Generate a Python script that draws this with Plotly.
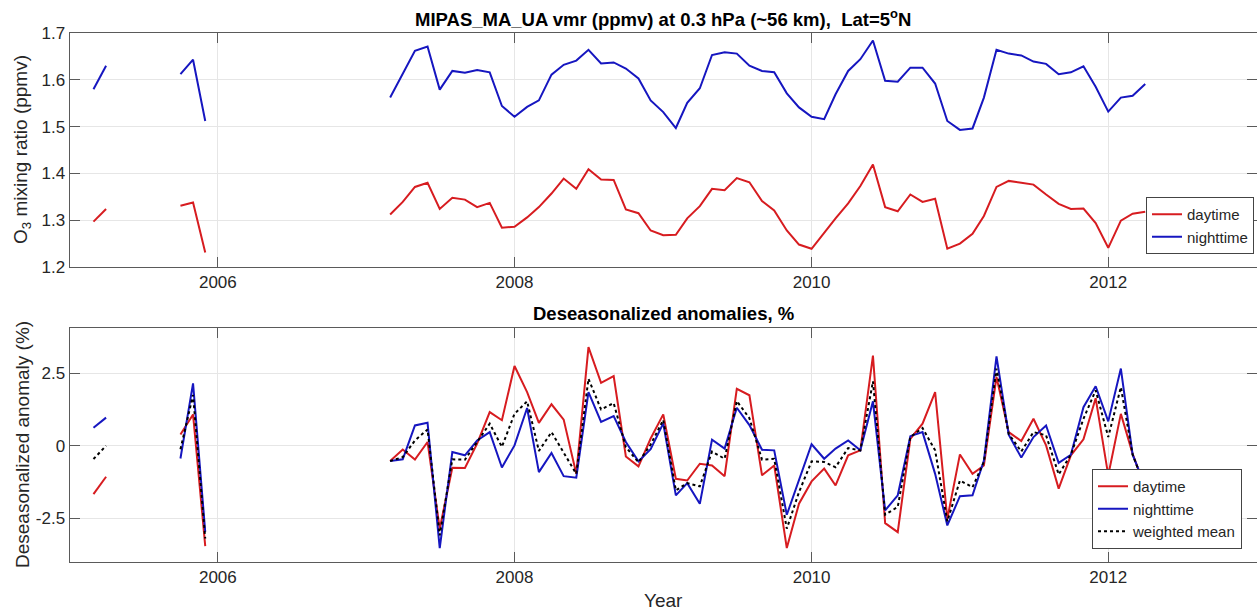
import pandas as pd
import plotly.graph_objects as go

# Monthly time axis, March 2005 to April 2012 (None marks months without data)
months = pd.date_range("2005-03-01", "2012-04-01", freq="MS")
N = None
GAP5 = [N] * 5
GAP12 = [N] * 12

# O3 vmr (ppmv) at 0.3 hPa, 5N
o3_day = (
    [1.297, 1.324] + GAP5 + [1.331, 1.338, 1.231]                          # 2005
    + GAP12                                                                # 2006
    + [N, N, 1.312, 1.339, 1.371, 1.380, 1.324, 1.348, 1.344, 1.328, 1.337, 1.284]  # 2007
    + [1.286, 1.306, 1.328, 1.357, 1.389, 1.367, 1.409, 1.387, 1.386, 1.323, 1.315, 1.278]  # 2008
    + [1.268, 1.269, 1.304, 1.330, 1.367, 1.364, 1.390, 1.381, 1.341, 1.321, 1.278, 1.248]  # 2009
    + [1.239, 1.274, 1.304, 1.336, 1.373, 1.419, 1.328, 1.319, 1.355, 1.339, 1.346, 1.239]  # 2010
    + [1.250, 1.271, 1.309, 1.371, 1.384, 1.380, 1.376, 1.355, 1.335, 1.324, 1.325, 1.294]  # 2011
    + [1.241, 1.299, 1.314, 1.318]                                         # 2012
)
o3_night = (
    [1.580, 1.630] + GAP5 + [1.612, 1.643, 1.512]
    + GAP12
    + [N, N, 1.562, 1.612, 1.662, 1.671, 1.579, 1.619, 1.615, 1.621, 1.616, 1.544]
    + [1.521, 1.542, 1.556, 1.611, 1.632, 1.641, 1.664, 1.635, 1.637, 1.624, 1.603, 1.556]
    + [1.531, 1.497, 1.551, 1.582, 1.653, 1.659, 1.656, 1.630, 1.619, 1.616, 1.571, 1.541]
    + [1.521, 1.516, 1.569, 1.619, 1.644, 1.684, 1.598, 1.596, 1.626, 1.626, 1.592, 1.512]
    + [1.493, 1.496, 1.562, 1.664, 1.656, 1.652, 1.639, 1.634, 1.612, 1.616, 1.629, 1.585]
    + [1.532, 1.562, 1.566, 1.591]
)

# Deseasonalized anomalies (%)
anom_day = (
    [-1.67, -1.07] + GAP5 + [0.39, 1.08, -3.46]
    + GAP12
    + [N, N, -0.53, -0.13, -0.48, 0.13, -2.86, -0.76, -0.77, 0.07, 1.16, 0.88]
    + [2.75, 1.85, 0.79, 1.43, 0.90, -0.97, 3.40, 2.17, 2.40, -0.37, -0.71, 0.25]
    + [1.08, -1.14, -1.20, -0.62, -0.68, -1.05, 1.96, 1.74, -1.02, -0.68, -3.53, -2.00]
    + [-1.23, -0.79, -1.37, -0.33, -0.16, 3.11, -2.67, -2.98, 0.24, 0.76, 1.85, -2.52]
    + [-0.30, -0.97, -0.68, 2.37, 0.47, 0.16, 0.93, 0.01, -1.48, -0.33, 0.22, 1.64]
    + [-1.02, 1.10, -0.28, -1.48]
)
anom_night = (
    [0.62, 0.97] + GAP5 + [-0.44, 2.15, -2.97]
    + GAP12
    + [N, N, -0.53, -0.47, 0.70, 0.79, -3.53, -0.22, -0.33, 0.18, 0.47, -0.75]
    + [0.01, 1.30, -0.91, -0.25, -1.05, -1.10, 1.85, 0.82, 1.02, 0.13, -0.54, -0.12]
    + [0.77, -1.71, -1.29, -2.00, 0.21, -0.10, 1.31, 0.71, -0.14, -0.16, -2.38, -1.20]
    + [0.05, -0.45, -0.10, 0.18, -0.16, 1.53, -2.23, -1.71, 0.33, 0.47, -0.97, -2.75]
    + [-1.74, -1.71, -0.51, 3.08, 0.38, -0.41, 0.30, 0.70, -0.59, -0.31, 1.33, 2.05]
    + [0.84, 2.66, -0.31, -1.40]
)
anom_mean = (
    [-0.46, 0.00] + GAP5 + [-0.12, 1.75, -3.20]
    + GAP12
    + [N, N, -0.53, -0.39, 0.18, 0.56, -3.09, -0.47, -0.48, 0.13, 0.76, -0.04]
    + [1.10, 1.53, -0.18, 0.47, -0.22, -0.97, 2.31, 1.25, 1.47, -0.05, -0.57, 0.04]
    + [0.89, -1.54, -1.29, -1.40, -0.20, -0.45, 1.54, 0.95, -0.48, -0.45, -2.86, -1.60]
    + [-0.54, -0.56, -0.74, -0.08, -0.16, 2.22, -2.38, -2.11, 0.30, 0.61, -0.16, -2.61]
    + [-1.20, -1.43, -0.56, 2.66, 0.41, -0.20, 0.47, 0.36, -0.99, -0.31, 0.93, 1.91]
    + [0.30, 2.02, -0.31, -1.43]
)

RED = "rgb(215,28,32)"
BLUE = "rgb(22,22,192)"
FONT = "Liberation Sans, Arial, Helvetica, sans-serif"
W, H = 1257, 610

fig = go.Figure()
fig.add_trace(go.Scatter(x=months, y=o3_day, mode="lines", name="daytime",
                         line=dict(color=RED, width=2), xaxis="x", yaxis="y", legend="legend"))
fig.add_trace(go.Scatter(x=months, y=o3_night, mode="lines", name="nighttime",
                         line=dict(color=BLUE, width=2), xaxis="x", yaxis="y", legend="legend"))
fig.add_trace(go.Scatter(x=months, y=anom_day, mode="lines", name="daytime",
                         line=dict(color=RED, width=2), xaxis="x2", yaxis="y2", legend="legend2"))
fig.add_trace(go.Scatter(x=months, y=anom_night, mode="lines", name="nighttime",
                         line=dict(color=BLUE, width=2), xaxis="x2", yaxis="y2", legend="legend2"))
fig.add_trace(go.Scatter(x=months, y=anom_mean, mode="lines", name="weighted mean",
                         line=dict(color="black", width=2, dash="dot"), xaxis="x2", yaxis="y2",
                         legend="legend2"))

x_dom = [69.5 / W, 1.0]
top_dom = [(H - 267) / H, (H - 33) / H]
bot_dom = [(H - 562) / H, (H - 328) / H]

axis_common = dict(
    showline=True, linecolor="#5a5a5a", linewidth=1, mirror="ticks",
    ticks="inside", ticklen=10, tickcolor="#5a5a5a", tickwidth=1,
    showgrid=True, gridcolor="#e6e6e6", gridwidth=1, zeroline=False,
    tickfont=dict(family=FONT, size=17, color="#262626"), automargin=False,
)
xcommon = dict(axis_common, type="date", range=["2005-01-01", "2013-01-01"],
               tick0="2006-01-01", dtick="M24", tickformat="%Y", domain=x_dom)

legend_common = dict(xanchor="right", yanchor="bottom", bgcolor="white",
                     bordercolor="#444", borderwidth=1,
                     font=dict(family=FONT, size=15, color="#262626"),
                     tracegroupgap=0, itemwidth=30)

fig.update_layout(
    width=W, height=H,
    margin=dict(l=0, r=0, t=0, b=0),
    paper_bgcolor="white", plot_bgcolor="white",
    font=dict(family=FONT, color="#262626"),
    xaxis=dict(xcommon, anchor="y"),
    yaxis=dict(axis_common, domain=top_dom, anchor="x", range=[1.2, 1.7],
               tickvals=[1.2, 1.3, 1.4, 1.5, 1.6, 1.7], tickformat=".1f"),
    xaxis2=dict(xcommon, anchor="y2"),
    yaxis2=dict(axis_common, domain=bot_dom, anchor="x2", range=[-4.01, 4.06],
                tickvals=[-2.5, 0, 2.5], ticktext=["-2.5", "0", "2.5"]),
    legend=dict(legend_common, x=1254 / W, y=(H - 254) / H),
    legend2=dict(legend_common, x=1242 / W, y=(H - 549) / H),
    showlegend=True,
)

ann = [
    dict(text="<b>MIPAS_MA_UA vmr (ppmv) at 0.3 hPa (~56 km),  Lat=5<sup>o</sup>N</b>",
         x=663 / W, y=(H - 18) / H, font=dict(size=18.5, color="black")),
    dict(text="<b>Deseasonalized anomalies, %</b>",
         x=663 / W, y=(H - 313) / H, font=dict(size=18.5, color="black")),
    dict(text="O<sub>3</sub> mixing ratio (ppmv)", x=22 / W, y=(H - 150) / H,
         textangle=-90, font=dict(size=19, color="#262626")),
    dict(text="Deseasonalized anomaly (%)", x=22 / W, y=(H - 445) / H,
         textangle=-90, font=dict(size=19, color="#262626")),
    dict(text="Year", x=663 / W, y=(H - 600) / H, font=dict(size=19, color="#262626")),
]
for a in ann:
    a.update(xref="paper", yref="paper", showarrow=False, xanchor="center", yanchor="middle")
    a["font"]["family"] = FONT
fig.update_layout(annotations=ann)

fig.write_html("out.html")
